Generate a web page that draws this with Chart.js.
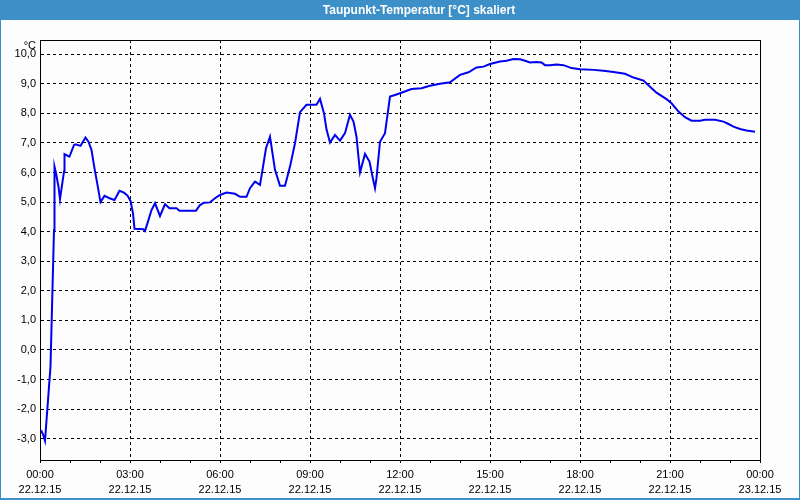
<!DOCTYPE html>
<html>
<head>
<meta charset="utf-8">
<script src="https://cdn.jsdelivr.net/npm/chart.js@4/dist/chart.umd.min.js"></script>
<style>
html,body{margin:0;padding:0;background:#fcfdfc;}
canvas{display:block;}
</style>
</head>
<body>
<canvas id="c" width="800" height="500"></canvas>
<script>
// Time of each reading, in minutes after 22.12.15 00:00
const minutes = [2,6,10,21,28,29,32,37,40,48,49,57,59,68,71,81,91,97,103,109,115,121,129,139,149,159,168,175,181,186,189,207,210,217,223,230,240,250,259,273,279,312,320,328,340,350,360,373,390,400,413,420,430,440,445,452,460,470,480,490,500,510,520,533,553,560,568,573,580,590,600,610,620,627,633,640,650,659,665,670,673,680,690,700,710,720,743,763,780,800,820,840,857,873,887,900,920,933,947,960,970,980,993,1003,1010,1020,1033,1047,1063,1080,1107,1127,1147,1170,1187,1207,1220,1233,1253,1263,1277,1290,1303,1320,1330,1350,1367,1377,1387,1400,1413,1430];
// Dew point temperature in °C
const dewPoint = [-2.71,-2.85,-3.07,-0.56,4.06,6.2,5.98,5.52,5.1,6.03,6.62,6.55,6.54,6.93,6.95,6.9,7.18,7.04,6.76,6.14,5.58,5.0,5.21,5.13,5.07,5.38,5.32,5.22,5.04,4.62,4.1,4.08,4.02,4.4,4.73,4.96,4.53,4.93,4.79,4.79,4.71,4.71,4.9,4.98,4.99,5.13,5.24,5.32,5.28,5.18,5.18,5.47,5.69,5.58,6.09,6.82,7.21,6.09,5.55,5.55,6.2,6.99,8.04,8.29,8.29,8.49,8.0,7.46,7.01,7.27,7.08,7.33,7.95,7.72,7.21,6.0,6.63,6.37,5.86,5.47,5.81,7.04,7.33,8.57,8.62,8.68,8.82,8.85,8.93,9.0,9.05,9.3,9.39,9.55,9.58,9.67,9.75,9.78,9.84,9.83,9.78,9.72,9.74,9.72,9.63,9.63,9.65,9.63,9.53,9.49,9.47,9.44,9.4,9.34,9.21,9.11,8.9,8.7,8.48,8.34,8.06,7.87,7.75,7.75,7.78,7.78,7.72,7.64,7.55,7.47,7.42,7.38];
// Tick labels for the time axis (every 3 hours)
const timeLabels = ["00:00","03:00","06:00","09:00","12:00","15:00","18:00","21:00","00:00"];
const dateLabels = ["22.12.15","22.12.15","22.12.15","22.12.15","22.12.15","22.12.15","22.12.15","22.12.15","23.12.15"];
const titleText = "Taupunkt-Temperatur [°C] skaliert";
const unitText = "°C";

const points = minutes.map((m, i) => ({x: m, y: dewPoint[i]}));

const framePlugin = {
  id: 'frame',
  beforeDraw(chart) {
    const ctx = chart.ctx;
    ctx.save();
    ctx.fillStyle = '#fcfdfc';
    ctx.fillRect(0, 0, 800, 500);
    ctx.fillStyle = '#3c8fc7';
    ctx.fillRect(0, 0, 800, 20);
    ctx.fillRect(0, 0, 1, 500);
    ctx.fillRect(799, 0, 1, 500);
    ctx.fillRect(0, 498, 800, 2);
    ctx.fillStyle = '#ffffff';
    ctx.font = 'bold 12px "Liberation Sans", Arial, sans-serif';
    ctx.textAlign = 'center';
    ctx.textBaseline = 'middle';
    ctx.fillText(titleText, 419, 10.5);
    ctx.fillStyle = '#000000';
    ctx.font = '11px "Liberation Sans", Arial, sans-serif';
    ctx.textAlign = 'right';
    ctx.fillText(unitText, 36, 45.5);
    ctx.restore();
  },
  afterDraw(chart) {
    const a = chart.chartArea;
    const ctx = chart.ctx;
    ctx.save();
    ctx.strokeStyle = '#000';
    ctx.lineWidth = 1;
    ctx.beginPath();
    ctx.moveTo(Math.round(a.left) + 0.5, Math.round(a.top) + 0.5);
    ctx.lineTo(Math.round(a.right) + 0.5, Math.round(a.top) + 0.5);
    ctx.lineTo(Math.round(a.right) + 0.5, Math.round(a.bottom) + 0.5);
    ctx.stroke();
    ctx.restore();
  }
};

new Chart(document.getElementById('c'), {
  type: 'line',
  data: {
    datasets: [{
      data: points,
      borderColor: '#0000ee',
      borderWidth: 2,
      pointRadius: 0,
      tension: 0,
      fill: false
    }]
  },
  options: {
    responsive: false,
    animation: false,
    events: [],
    layout: {padding: {top: 40, right: 40, left: 0, bottom: 0}},
    plugins: {legend: {display: false}, tooltip: {enabled: false}, title: {display: false}},
    scales: {
      x: {
        type: 'linear',
        min: 0,
        max: 1440,
        afterFit(s) { s.height = 40; },
        ticks: {
          stepSize: 60,
          autoSkip: false,
          maxRotation: 0,
          padding: 4,
          color: '#000',
          font: {family: '"Liberation Sans", Arial, sans-serif', size: 11, lineHeight: '15.5px'},
          callback(v) {
            if (v % 180 !== 0) return '';
            const i = v / 180;
            return [timeLabels[i], dateLabels[i]];
          }
        },
        grid: {
          color: (c) => (c.tick && c.tick.value % 180 === 0) ? '#000' : 'rgba(0,0,0,0)',
          tickColor: '#000',
          tickLength: 3,
          tickBorderDash: [],
          lineWidth: 1
        },
        border: {display: true, color: '#000', width: 1, dash: [3, 3]}
      },
      y: {
        min: -3.72,
        max: 10.48,
        afterFit(s) { s.width = 40; },
        ticks: {
          stepSize: 1,
          includeBounds: false,
          padding: 4,
          color: '#000',
          font: {family: '"Liberation Sans", Arial, sans-serif', size: 11},
          callback(v) { return v.toFixed(1).replace('.', ','); }
        },
        grid: {color: '#000', drawTicks: false, lineWidth: 1},
        border: {display: true, color: '#000', width: 1, dash: [3, 3]}
      }
    }
  },
  plugins: [framePlugin]
});
</script>
</body>
</html>
